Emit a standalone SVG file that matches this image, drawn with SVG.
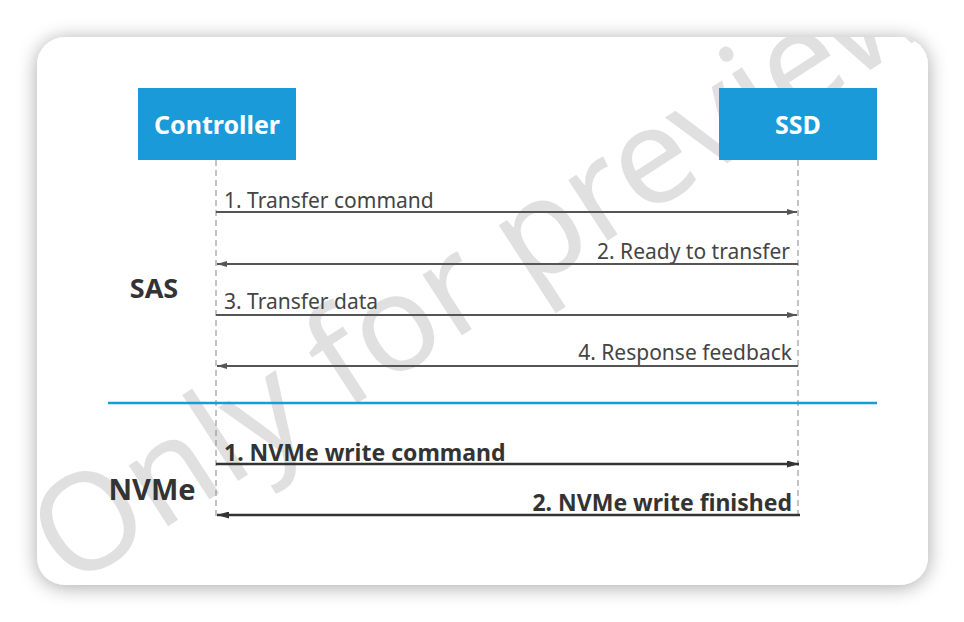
<svg xmlns="http://www.w3.org/2000/svg" width="964" height="622" viewBox="0 0 964 622">
<defs>
<filter id="shadow" x="-10%" y="-10%" width="120%" height="120%">
<feGaussianBlur in="SourceAlpha" stdDeviation="10"/>
<feOffset dx="0" dy="2" result="b"/>
<feComponentTransfer><feFuncA type="linear" slope="0.35"/></feComponentTransfer>
<feMerge><feMergeNode/><feMergeNode in="SourceGraphic"/></feMerge>
</filter>
<clipPath id="card"><rect x="37" y="37" width="891" height="548" rx="28"/></clipPath>
<marker id="ah" viewBox="0 0 10 6" refX="10" refY="3" markerWidth="10" markerHeight="6" markerUnits="userSpaceOnUse" orient="auto">
<path d="M0,0 L10,3 L0,6 Z" fill="#555"/>
</marker>
<marker id="ahb" viewBox="0 0 12 7" refX="12" refY="3.5" markerWidth="12" markerHeight="7" markerUnits="userSpaceOnUse" orient="auto">
<path d="M0,0 L12,3.5 L0,7 Z" fill="#333"/>
</marker>
</defs>
<style>
.box{fill:#1a9ad9}
.boxt{font-family:"Noto Sans","Open Sans",sans-serif;font-size:25px;font-weight:bold;fill:#fff;text-anchor:middle}
.life{stroke:#888;stroke-width:1;stroke-dasharray:6,4;fill:none}
.msg{stroke:#555;stroke-width:2;fill:none;marker-end:url(#ah)}
.msgb{stroke:#333;stroke-width:2.5;fill:none;marker-end:url(#ahb)}
.lbl{font-family:"Noto Sans","Open Sans",sans-serif;font-size:21px;fill:#444}
.lblb{font-family:"Noto Sans","Open Sans",sans-serif;font-size:23px;font-weight:bold;fill:#333}
.sec{font-family:"Noto Sans","Open Sans",sans-serif;font-size:27px;font-weight:bold;fill:#333}
.wm{font-family:"Noto Sans","Open Sans",sans-serif;font-size:135px;fill:#000;fill-opacity:0.12}
</style>
<rect width="964" height="622" fill="#fff"/>
<rect x="37" y="37" width="891" height="548" rx="28" fill="#fff" filter="url(#shadow)"/>
<g clip-path="url(#card)">
<text class="wm" transform="translate(70,590) rotate(-33)">Only for preview</text>
</g>
<g id="controller">
<rect class="box" x="138" y="88" width="158" height="72"/>
<text class="boxt" x="217" y="134">Controller</text>
</g>
<g id="ssd">
<rect class="box" x="719" y="88" width="158" height="72"/>
<text class="boxt" x="798" y="134">SSD</text>
</g>
<g id="lifelines">
<line class="life" x1="216" y1="160" x2="216" y2="520"/>
<line class="life" x1="798" y1="160" x2="798" y2="520"/>
</g>
<g id="divider">
<line x1="108" y1="403" x2="877" y2="403" stroke="#1a9ad9" stroke-width="2.5"/>
</g>
<g id="labels">
<text class="sec" x="154" y="298" text-anchor="middle">SAS</text>
<text class="sec" x="152" y="500" text-anchor="middle" style="font-size:29px">NVMe</text>
</g>
<g id="connectors">
<line class="msg" x1="216" y1="212" x2="797" y2="212"/>
<text class="lbl" x="224" y="208">1. Transfer command</text>
<line class="msg" x1="798" y1="264" x2="217" y2="264"/>
<text class="lbl" x="790" y="259" text-anchor="end">2. Ready to transfer</text>
<line class="msg" x1="216" y1="315" x2="797" y2="315"/>
<text class="lbl" x="224" y="309">3. Transfer data</text>
<line class="msg" x1="798" y1="366" x2="217" y2="366"/>
<text class="lbl" x="792" y="360" text-anchor="end">4. Response feedback</text>
<line class="msgb" x1="216" y1="464" x2="799" y2="464"/>
<text class="lblb" x="224" y="461">1. NVMe write command</text>
<line class="msgb" x1="800" y1="515" x2="217" y2="515"/>
<text class="lblb" x="792" y="511" text-anchor="end">2. NVMe write finished</text>
</g>
</svg>
